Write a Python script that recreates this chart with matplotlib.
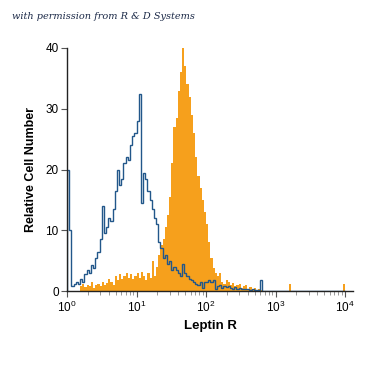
import numpy as np
import matplotlib
matplotlib.use("Agg")
import matplotlib.pyplot as plt
from matplotlib.ticker import LogLocator, FixedLocator

# === DATA (128 log bins from 10^0 to 10^4) ===
n_bins = 128

# isotype control (blue outline)
control = [
    20, 10, 0.8, 1.2, 1.5, 1.2, 2.0, 1.5, 2.8, 3.5,
    3.0, 4.2, 3.8, 5.5, 6.5, 8.5, 14.0, 9.5, 10.5, 12.0,
    11.5, 13.5, 16.5, 20.0, 17.5, 18.5, 21.0, 22.0, 21.5, 24.0,
    25.5, 26.0, 28.0, 32.5, 14.5, 19.5, 18.5, 16.5, 15.0, 13.5,
    12.0, 11.0, 8.0, 7.0, 5.5, 6.0, 4.5, 5.0, 3.5, 4.0,
    3.5, 3.0, 2.5, 4.5, 3.0, 2.5, 2.0, 1.8, 1.5, 1.2,
    1.0, 1.5, 0.5, 1.5, 1.5, 1.8, 1.5, 1.8, 0.3, 0.8,
    1.0, 0.5, 0.8, 0.6, 0.8, 0.5, 0.4, 0.6, 0.3, 0.5,
    0.3, 0.4, 0.3, 0.3, 0.2, 0.3, 0.2, 0.2, 0.2, 1.8,
] + [0] * 38

# Leptin R stained (orange fill)
stained = [
    0, 0, 0, 0, 0, 0, 0.8, 1.2, 0.6, 1.0,
    0.8, 1.5, 0.5, 1.0, 1.2, 0.8, 1.5, 1.0, 1.3, 2.0,
    1.5, 1.0, 2.5, 1.8, 2.8, 2.0, 2.5, 3.0, 2.2, 2.8,
    2.0, 2.5, 3.0, 2.2, 3.2, 2.5, 1.8, 3.0, 2.2, 5.0,
    2.5, 4.0, 6.0, 7.5, 8.5, 10.5, 12.5, 15.5, 21.0, 27.0,
    28.5, 33.0, 36.0, 41.0, 37.0, 34.0, 32.0, 29.0, 26.0, 22.0,
    19.0, 17.0, 15.0, 13.0, 11.0, 8.0, 5.5, 3.8, 3.0, 2.5,
    3.0, 1.5, 1.2, 1.8, 1.5, 1.0, 1.3, 0.8, 1.0, 1.2,
    0.5, 0.8, 1.0, 0.4, 0.6, 0.3, 0.5, 0.2, 0.3, 0.2,
    0, 0, 0, 0, 0, 0, 0, 0, 0, 0,
    0, 0, 1.2, 0, 0, 0, 0, 0, 0, 0,
    0, 0, 0, 0, 0, 0, 0, 0, 0, 0,
    0, 0, 0, 0, 0, 0, 0, 1.2,
]

y_ticks = [0, 10, 20, 30, 40]
x_decades = [0, 1, 2, 3, 4]

BLUE = "#22578a"
ORANGE = "#f6a01c"
SANS = ["Liberation Sans", "DejaVu Sans"]

edges = np.logspace(0, 4, n_bins + 1)

fig = plt.figure(figsize=(3.75, 3.75), dpi=100)
ax = fig.add_axes([0.1787, 0.224, 0.7627, 0.648])

ax.stairs(stained, edges, fill=True, color=ORANGE, linewidth=0)
ax.stairs(control, edges, color=BLUE, linewidth=1.0)

ax.set_xscale("log")
ax.set_xlim(1, 10 ** 4.115)
ax.set_ylim(0, 40)

for side in ["top", "right"]:
    ax.spines[side].set_visible(False)
for side in ["left", "bottom"]:
    ax.spines[side].set_color("#222222")
    ax.spines[side].set_linewidth(1.0)

ax.yaxis.set_major_locator(FixedLocator(y_ticks))
ax.set_yticklabels([str(v) for v in y_ticks], family=SANS, fontsize=8.5)
ax.xaxis.set_major_locator(FixedLocator([10 ** d for d in x_decades]))
ax.set_xticklabels([r"$\mathregular{10^{%d}}$" % d for d in x_decades],
                   family=SANS, fontsize=8.5)
ax.xaxis.set_minor_locator(LogLocator(base=10, subs=np.arange(2, 10)))
ax.tick_params(axis="both", which="major", length=4, width=0.8,
               color="#555555", pad=2)
ax.tick_params(axis="x", which="minor", length=3, width=0.6, color="#888888")

ax.set_ylabel("Relative Cell Number", family=SANS, fontsize=9,
              fontweight="bold", labelpad=6)
ax.set_xlabel("Leptin R", family=SANS, fontsize=9.5, fontweight="bold",
              labelpad=4)

fig.text(0.032, 0.957, "with permission from R & D Systems",
         family="DejaVu Serif", style="italic", fontsize=7,
         color="#1c2a48", va="center")

plt.savefig("out.png", dpi=100)
plt.close()
